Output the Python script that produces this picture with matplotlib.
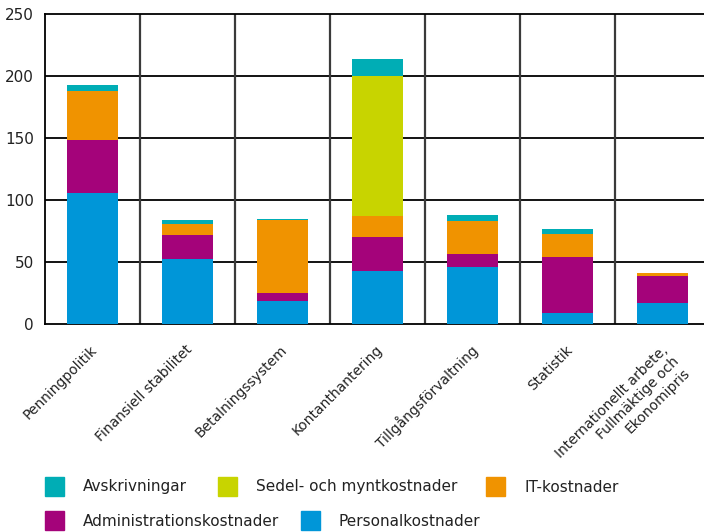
import matplotlib
matplotlib.use("Agg")
import matplotlib.pyplot as plt
from matplotlib.patches import Rectangle
import numpy as np

categories = ["Penningpolitik", "Finansiell stabilitet", "Betalningssystem",
              "Kontanthantering", "Tillgångsförvaltning", "Statistik",
              "Internationellt arbete,\nFullmäktige och\nEkonomipris"]

# stacked from bottom to top
personal = [106, 52.5, 18.5, 42.7, 46, 9, 17]
admin = [42, 19.5, 6.5, 27.5, 10.5, 45, 21.8]
it = [40, 8.8, 58.9, 17, 26.6, 18.6, 2.4]
sedel = [0, 0, 0, 112.8, 0, 0, 0]
avskr = [4.8, 3.2, 0.8, 13.7, 4.8, 4, 0]

series = [personal, admin, it, sedel, avskr]
colors = ["#0096d8", "#a4037a", "#f09300", "#c8d400", "#00adb5"]

legend_rows = [
    [("Avskrivningar", "#00adb5"), ("Sedel- och myntkostnader", "#c8d400"), ("IT-kostnader", "#f09300")],
    [("Administrationskostnader", "#a4037a"), ("Personalkostnader", "#0096d8")],
]

plt.rcParams["font.family"] = ["DejaVu Sans"]

fig = plt.figure(figsize=(7.04, 5.32), dpi=100)
ax = fig.add_axes([45 / 704, 1 - 324 / 532, 1 - 45 / 704, (324 - 14) / 532])

x = np.arange(len(categories))
bottom = np.zeros(len(categories))
for vals, col in zip(series, colors):
    v = np.array(vals, dtype=float)
    ax.bar(x, v, bottom=bottom, width=0.53, color=col, zorder=3, linewidth=0)
    bottom += v

ax.set_xlim(-0.5, 6.437)
ax.set_ylim(0, 250)
ax.set_yticks([0, 50, 100, 150, 200, 250])
ax.tick_params(axis="y", length=0, pad=8, labelsize=11, labelcolor="#222222")
ax.set_xticks(x)
ax.set_xticklabels([])
ax.tick_params(axis="x", length=0)

for y in [50, 100, 150, 200]:
    ax.axhline(y, color="black", lw=1.3, zorder=1)
for xb in np.arange(0.5, 6.5, 1.0):
    ax.axvline(xb, color="#3a3a3a", lw=1.6, zorder=1)

for s in ["top", "left", "bottom"]:
    ax.spines[s].set_color("black")
    ax.spines[s].set_linewidth(1.3)
ax.spines["right"].set_visible(False)

for xi, lab in zip(x, categories):
    ax.annotate(lab, (xi, 0), xytext=(-1.5, -13.5), textcoords="offset points",
                rotation=45, ha="right", va="top", rotation_mode="anchor",
                fontsize=10, color="#222222", multialignment="right",
                annotation_clip=False)

# legend drawn manually to match the staggered layout
row_y = [487, 521]
col_x = [[45, 218, 486], [45, 301]]
for r, entries in enumerate(legend_rows):
    for (lab, col), px in zip(entries, col_x[r]):
        fig.patches.append(Rectangle((px / 704, 1 - (row_y[r] + 9) / 532),
                                     19 / 704, 19 / 532, color=col,
                                     transform=fig.transFigure))
        fig.text((px + 38) / 704, 1 - row_y[r] / 532, lab, fontsize=11,
                 va="center", ha="left", color="#222222")

fig.savefig("out.png", dpi=100)
